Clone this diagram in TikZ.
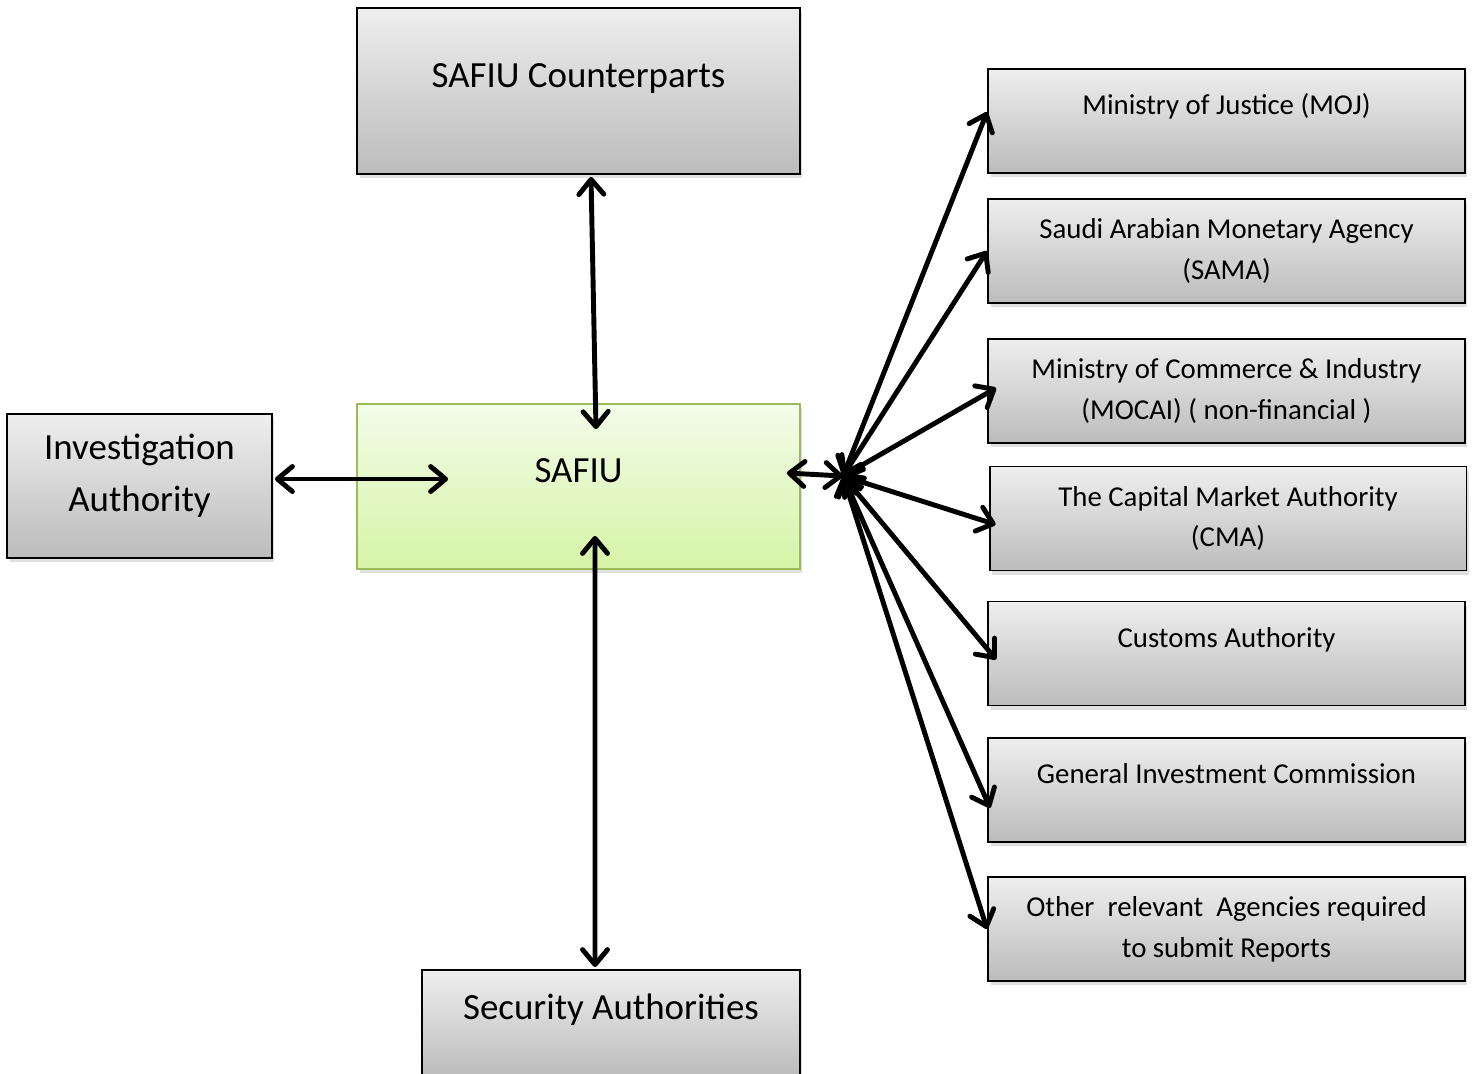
\documentclass[tikz,border=0pt]{standalone}
\usepackage{fontspec}
\setmainfont{Carlito}
\usepackage{tikz}
\usetikzlibrary{positioning, arrows.meta, calc, shadows}
\definecolor{fiu-top}{HTML}{EEEEEE}
\definecolor{fiu-bot}{HTML}{BCBCBC}
\definecolor{fiu-lime}{HTML}{F3FCEA}
\definecolor{fiu-limebot}{HTML}{D6F4A6}
\definecolor{fiu-olive}{HTML}{9BBB59}

\begin{document}
\begin{tikzpicture}[
    x=0.02cm, y=-0.02cm,
    agency/.style={draw, line width=1.1pt, top color=fiu-top, bottom color=fiu-bot,
                   align=center, inner sep=2pt,
                   drop shadow={shadow xshift=0.05cm, shadow yshift=-0.08cm, opacity=0.25}},
    big/.style={agency, font=\fontsize{21}{29.5}\selectfont},
    small/.style={agency, minimum width=9.54cm, minimum height=2.08cm,
                  font=\fontsize{16.4}{23.2}\selectfont},
    lift/.style={text height=0.44cm, text depth=0.7cm},
    arr/.style={{Straight Barb[length=0.3cm, width=0.5cm, round]}-{Straight Barb[length=0.3cm, width=0.5cm, round]},
                line width=2.8pt, line cap=round},
]
    \useasboundingbox (0,0) rectangle (1476,1073);

    % central unit and the bodies round it
    \node[big, minimum width=8.86cm, minimum height=3.32cm,
          text height=0.56cm, text depth=0.72cm] (cpart) at (578.5, 91) {SAFIU Counterparts};
    \node[big, minimum width=5.3cm, minimum height=2.88cm, text depth=0.53cm] (inv) at (139.5, 486)
        {Investigation\\Authority};
    \node[big, draw=fiu-olive, top color=fiu-lime, bottom color=fiu-limebot,
          minimum width=8.86cm, minimum height=3.3cm,
          text height=0.56cm, text depth=0.72cm] (safiu) at (578.5, 486.5) {SAFIU};
    \node[big, minimum width=7.56cm, minimum height=2.12cm,
          text height=0.56cm, text depth=0.72cm] (sec) at (611, 1023) {Security Authorities};

    % reporting agencies
    \node[small, lift] (moj)   at (1226.5, 121)   {Ministry of Justice (MOJ)};
    \node[small]       (sama)  at (1226.5, 251)   {Saudi Arabian Monetary Agency\\(SAMA)};
    \node[small]       (mocai) at (1226.5, 391)   {Ministry of Commerce \& Industry\\(MOCAI) ( non-financial )};
    \node[small]       (cma)   at (1228, 518.5)   {The Capital Market Authority\\(CMA)};
    \node[small, lift] (cust)  at (1226.5, 653.5) {Customs Authority};
    \node[small, lift] (gic)   at (1226.5, 790)   {General Investment Commission};
    \node[small]       (oth)   at (1226.5, 929)   {Other\ \ relevant\ \ Agencies required\\to submit Reports};

    \coordinate (hub) at (843, 476);

    \draw[arr] ($(cpart.south)+(12.5,2)$) -- ($(safiu.north)+(17.5,26)$);
    \draw[arr] ($(inv.east)+(2,-7)$) -- ($(safiu.west)+(92,-7.5)$);
    \draw[arr] ($(safiu.south)+(16.5,-34)$) -- ($(sec.north)+(-16,-2)$);
    \draw[arr] ($(safiu.east)+(-14,-13.5)$) -- (hub);

    \draw[arr] (hub) -- ($(moj.west)+(0,-9)$);
    \draw[arr] (hub) -- (sama.west);
    \draw[arr] (hub) -- ($(mocai.west)+(9,-3)$);
    \draw[arr] (hub) -- ($(cma.west)+(7,6)$);
    \draw[arr] (hub) -- ($(cust.west)+(9,6)$);
    \draw[arr] (hub) -- ($(gic.west)+(3,18)$);
    \draw[arr] (hub) -- (oth.west);
\end{tikzpicture}
\end{document}
